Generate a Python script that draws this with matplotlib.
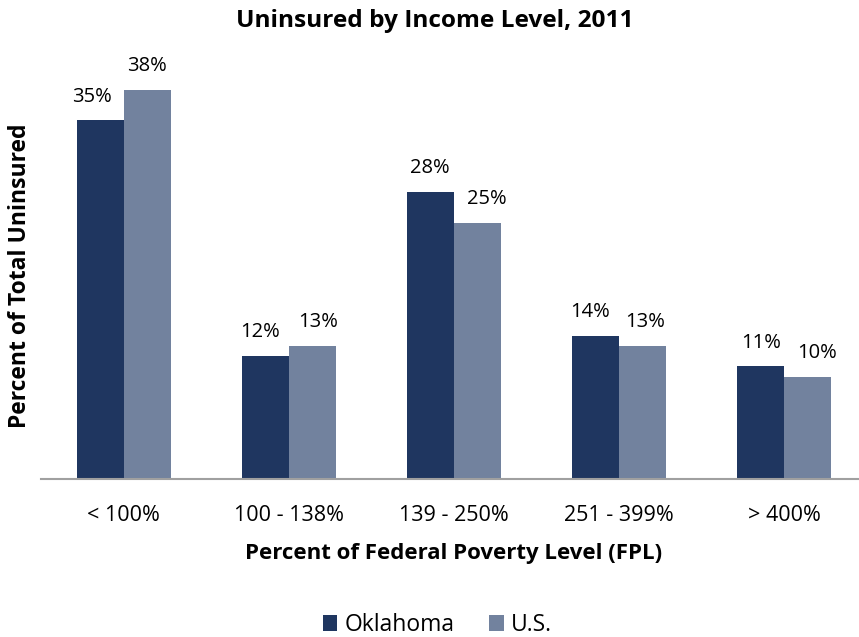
import matplotlib
matplotlib.use("Agg")
import matplotlib.pyplot as plt
import numpy as np

categories = ["< 100%", "100 - 138%", "139 - 250%", "251 - 399%", "> 400%"]
oklahoma = [35, 12, 28, 14, 11]
us = [38, 13, 25, 13, 10]
series_names = ["Oklahoma", "U.S."]
colors = ["#1F3660", "#72829E"]

plt.rcParams['font.family'] = ['Open Sans', 'DejaVu Sans']

W, H = 859, 637
fig = plt.figure(figsize=(W/100, H/100), dpi=100)
ax = fig.add_axes([41/W, (H-479)/H, 826/W, 410/H])

x = np.arange(len(categories))
w = 0.284
b1 = ax.bar(x - w/2, oklahoma, w, color=colors[0], label=series_names[0])
b2 = ax.bar(x + w/2, us, w, color=colors[1], label=series_names[1])

# horizontal nudges of the value labels (pixels), as placed in the original
nudge_ok = [-8, -5, -1, -6, 0]
nudge_us = [0, 6, 9, 2, 9]
for bars, vals, nudges in ((b1, oklahoma, nudge_ok), (b2, us, nudge_us)):
    for r, v, dx in zip(bars, vals, nudges):
        ax.annotate(f"{v}%", (r.get_x() + r.get_width()/2, v), xytext=(dx * 0.72, 13.5),
                    textcoords="offset points", ha="center", va="baseline",
                    fontsize=14.5, color="#000000", annotation_clip=False)

ax.set_xlim(-0.5, len(categories) - 0.5)
ax.set_ylim(0, 40)
ax.set_yticks([])
ax.set_xticks(x)
ax.set_xticklabels(categories, fontsize=15.5)
ax.tick_params(axis='x', length=0, pad=19)
for s in ["top", "right", "left"]:
    ax.spines[s].set_visible(False)
ax.spines["bottom"].set_color("#A0A0A0")
ax.spines["bottom"].set_linewidth(1.5)

fig.text(454/W, 1 - 553/H, "Percent of Federal Poverty Level (FPL)", ha="center", va="center",
         fontsize=16, fontweight="bold")
fig.text(20/W, 1 - 276/H, "Percent of Total Uninsured", rotation=90, ha="center", va="center",
         fontsize=16.5, fontweight="bold")
fig.text(435/W, 1 - 21/H, "Uninsured by Income Level, 2011", ha="center", va="center",
         fontsize=17.6, fontweight="bold")

fig.legend(handles=[b1, b2], labels=series_names, loc="center", bbox_to_anchor=(437/W, 1 - 625/H),
           ncol=2, frameon=False, fontsize=16.5, handlelength=0.65, handleheight=0.65,
           handletextpad=0.3, columnspacing=1.5)

fig.savefig("out.png", dpi=100)
